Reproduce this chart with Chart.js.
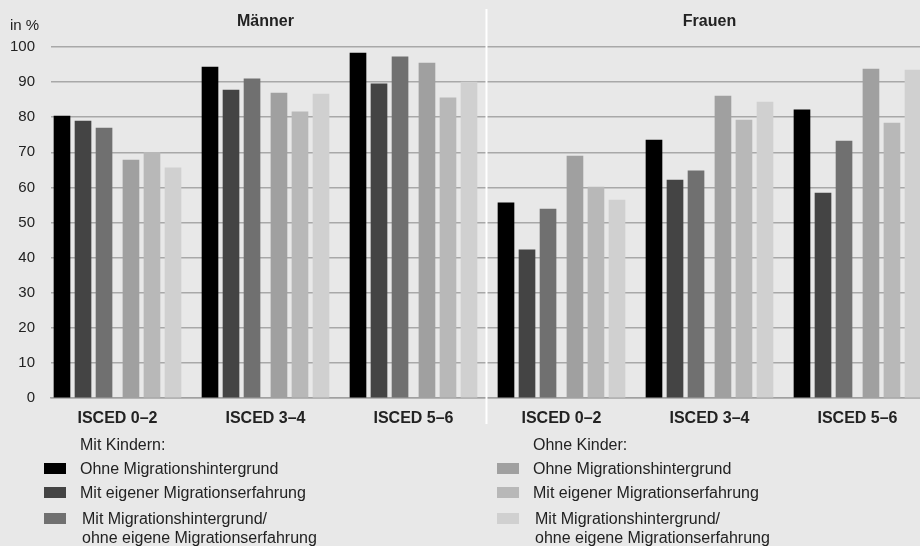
<!DOCTYPE html>
<html lang="de">
<head>
<meta charset="utf-8">
<title>Erwerbstätigkeit nach ISCED</title>
<script src="https://cdn.jsdelivr.net/npm/chart.js@4.4.1/dist/chart.umd.min.js"></script>
<style>
    html, body { margin: 0; padding: 0; background: #e8e8e8; overflow: hidden; }
    #wrap { position: relative; width: 920px; height: 546px; }
    #wrap canvas { position: absolute; left: 0; top: 0; }
    .leg { position: absolute; font-family: 'Liberation Sans', Arial, sans-serif; font-size: 16px; line-height: 19px; color: #222; white-space: pre; }
    .box { position: absolute; width: 22px; height: 11px; }
</style>
</head>
<body>
<div id="wrap">
    <canvas id="chart" width="920" height="546"></canvas>
</div>

<script>
// ================================================
//  Daten (in %)
// ================================================
const KATEGORIEN = ['ISCED 0–2', 'ISCED 3–4', 'ISCED 5–6', 'ISCED 0–2', 'ISCED 3–4', 'ISCED 5–6'];
const PANELS     = ['Männer', 'Frauen'];
const Y_TICKS    = [0, 10, 20, 30, 40, 50, 60, 70, 80, 90, 100];

const GRUPPEN = ['Mit Kindern:', 'Ohne Kinder:'];
const SERIEN  = ['Ohne Migrationshintergrund', 'Mit eigener Migrationserfahrung', 'Mit Migrationshintergrund/\nohne eigene Migrationserfahrung'];

//                       Männer: 0–2  3–4  5–6   Frauen: 0–2  3–4  5–6
const MK_OHNE_MH       = [80.3, 94.3, 98.3, 55.6, 73.5, 82.1];
const MK_EIGENE_ME     = [78.9, 87.7, 89.5, 42.2, 62.1, 58.4];
const MK_MH_OHNE_ME    = [76.9, 90.9, 97.2, 53.8, 64.7, 73.2];
const OK_OHNE_MH       = [67.8, 86.9, 95.4, 68.9, 86.0, 93.7];
const OK_EIGENE_ME     = [70.0, 81.5, 85.5, 60.1, 79.2, 78.3];
const OK_MH_OHNE_ME    = [65.6, 86.6, 90.0, 56.4, 84.3, 93.4];

const WERTE  = [MK_OHNE_MH, MK_EIGENE_ME, MK_MH_OHNE_ME, OK_OHNE_MH, OK_EIGENE_ME, OK_MH_OHNE_ME];
const FARBEN = ['#000000', '#444444', '#707070', '#a0a0a0', '#b8b8b8', '#d0d0d0'];

// Lage der Balken innerhalb einer Kategorie (Anteil der Kategoriebreite)
const SLOT = [-0.375, -0.233, -0.091, 0.091, 0.233, 0.375];

const FONT = "'Liberation Sans', Arial, sans-serif";
const TEXT = '#222';

// ------------------------------------------------
// Titel, Trennlinie, "in %"
// ------------------------------------------------
const beschriftung = {
    id: 'beschriftung',
    afterDraw(chart) {
        const { ctx, scales: { x } } = chart;
        ctx.save();
        const xt = x.getPixelForValue(2.5);
        ctx.strokeStyle = '#ffffff';
        ctx.lineWidth = 2;
        ctx.beginPath();
        ctx.moveTo(xt - 1, 9);
        ctx.lineTo(xt - 1, 424);
        ctx.stroke();

        ctx.fillStyle = TEXT;
        ctx.textBaseline = 'middle';
        ctx.textAlign = 'center';
        ctx.font = `bold 16px ${FONT}`;
        PANELS.forEach((p, i) => ctx.fillText(p, x.getPixelForValue(1 + i * 3), 22));

        ctx.textAlign = 'left';
        ctx.font = `15px ${FONT}`;
        ctx.fillText('in %', 10, 26);
        ctx.restore();
    }
};

new Chart(document.getElementById('chart').getContext('2d'), {
    type: 'bar',
    data: {
        datasets: WERTE.map((werte, s) => ({
            label: `${GRUPPEN[Math.floor(s / 3)]} ${SERIEN[s % 3]}`,
            data: werte.map((v, i) => ({ x: i + SLOT[s], y: v })),
            backgroundColor: FARBEN[s],
            borderWidth: 0,
            barThickness: 16,
            grouped: false
        }))
    },
    options: {
        responsive: false,
        animation: false,
        layout: { padding: { top: 47, left: 0, right: 0, bottom: 0 } },
        plugins: { legend: { display: false }, tooltip: { enabled: false } },
        scales: {
            x: {
                type: 'linear',
                offset: false,
                min: -0.4493,
                max: 5.4224,
                afterFit: s => { s.height = 148; },
                afterBuildTicks: s => { s.ticks = KATEGORIEN.map((_, i) => ({ value: i })); },
                grid: { display: false, drawTicks: false },
                border: { display: true, color: '#a0a0a0', width: 1.5 },
                ticks: {
                    autoSkip: false,
                    maxRotation: 0,
                    padding: 11,
                    color: TEXT,
                    font: { family: FONT, size: 16, weight: 'bold' },
                    callback: v => KATEGORIEN[Math.round(v)]
                }
            },
            y: {
                min: 0,
                max: 100,
                afterFit: s => { s.width = 51; },
                afterBuildTicks: s => { s.ticks = Y_TICKS.map(v => ({ value: v })); },
                grid: { color: '#a8a8a8', lineWidth: 1.5, drawTicks: false },
                border: { display: false },
                ticks: {
                    padding: 16,
                    color: TEXT,
                    font: { family: FONT, size: 15 }
                }
            }
        }
    },
    plugins: [beschriftung]
});

// ------------------------------------------------
// Legende (zwei Spalten)
// ------------------------------------------------
const SPALTEN = [{ box: 44, text: 80 }, { box: 497, text: 533 }];
const ZEILEN  = [468, 492, 518];
const wrap = document.getElementById('wrap');

GRUPPEN.forEach((g, c) => {
    const kopf = document.createElement('div');
    kopf.className = 'leg';
    kopf.style.left = SPALTEN[c].text + 'px';
    kopf.style.top = '435px';
    kopf.textContent = g;
    wrap.appendChild(kopf);

    SERIEN.forEach((name, r) => {
        const box = document.createElement('div');
        box.className = 'box';
        box.style.left = SPALTEN[c].box + 'px';
        box.style.top = (ZEILEN[r] - 5.5) + 'px';
        box.style.background = FARBEN[c * 3 + r];
        wrap.appendChild(box);

        const t = document.createElement('div');
        t.className = 'leg';
        t.style.left = (SPALTEN[c].text + (r === 2 ? 2 : 0)) + 'px';
        t.style.top = (ZEILEN[r] - 9.5) + 'px';
        t.textContent = name;
        wrap.appendChild(t);
    });
});
</script>
</body>
</html>
